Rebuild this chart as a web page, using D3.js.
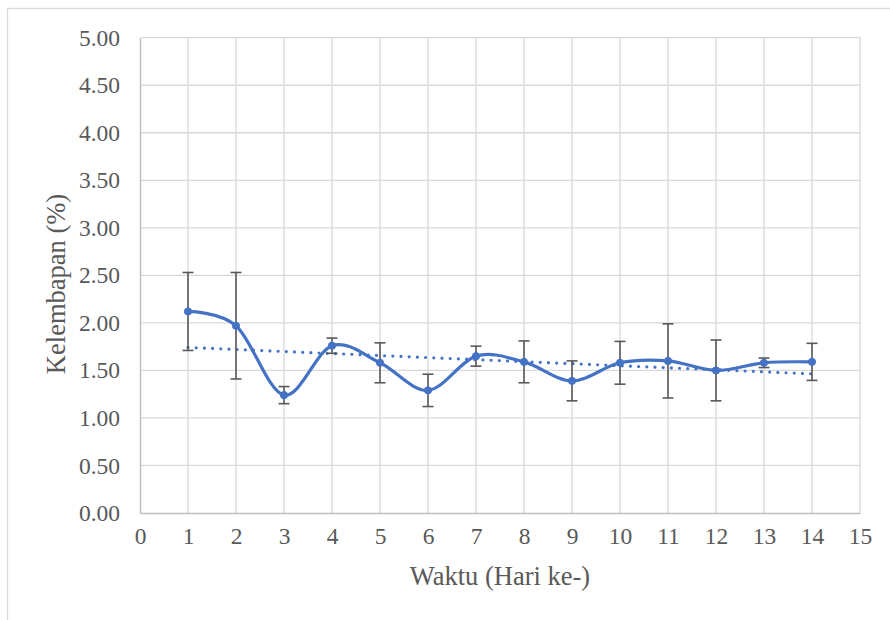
<!DOCTYPE html>
<html>
<head>
<meta charset="utf-8">
<script src="https://cdn.jsdelivr.net/npm/d3@7"></script>
<style>
  html, body { margin: 0; padding: 0; background: #fff; }
  svg { display: block; }
  text { font-family: "Liberation Serif", "Times New Roman", serif; fill: #595959; }
</style>
</head>
<body>
<svg id="chart" width="890" height="620"></svg>
<script>
// ---- data ----
const days = [1, 2, 3, 4, 5, 6, 7, 8, 9, 10, 11, 12, 13, 14];
const moisture = [2.12, 1.97, 1.24, 1.76, 1.58, 1.29, 1.65, 1.59, 1.39, 1.58, 1.60, 1.50, 1.58, 1.59];
const errorHalf = [0.41, 0.56, 0.09, 0.08, 0.21, 0.17, 0.105, 0.22, 0.21, 0.225, 0.39, 0.32, 0.05, 0.195];
const xTicks = [0, 1, 2, 3, 4, 5, 6, 7, 8, 9, 10, 11, 12, 13, 14, 15];
const yTicks = [0, 0.5, 1, 1.5, 2, 2.5, 3, 3.5, 4, 4.5, 5];
const xTitle = "Waktu (Hari ke-)";
const yTitle = "Kelembapan (%)";

(function () {
// ---- layout ----
const svg = d3.select("#chart");
const pLeft = 140, pRight = 860, pTop = 37.7, pBottom = 513;
const x = d3.scaleLinear().domain([0, 15]).range([pLeft, pRight]);
const y = d3.scaleLinear().domain([0, 5]).range([pBottom, pTop]);
const blue = "#4472C4";
const serif = "'Liberation Serif', 'Times New Roman', serif";
const fs = 23.5;
const tfs = 26.5;

// outer chart frame
svg.append("rect").attr("x", 7.5).attr("y", 8.5).attr("width", 900).attr("height", 700)
  .attr("fill", "#fff").attr("stroke", "#D9D9D9").attr("stroke-width", 1.3);

// gridlines
const grid = svg.append("g");
grid.selectAll("line.h").data(yTicks.filter(d => d > 0)).join("line")
  .attr("x1", pLeft).attr("x2", pRight)
  .attr("y1", d => y(d)).attr("y2", d => y(d))
  .attr("stroke", "#D9D9D9").attr("stroke-width", 1.3);
grid.selectAll("line.v").data(xTicks.filter(d => d > 0)).join("line")
  .attr("y1", pTop).attr("y2", pBottom)
  .attr("x1", d => x(d)).attr("x2", d => x(d))
  .attr("stroke", "#D9D9D9").attr("stroke-width", 1.3);

// axes
const xAxis = d3.axisBottom(x).tickValues(xTicks).tickSize(0).tickPadding(14).tickFormat(d3.format("d"));
const yAxis = d3.axisLeft(y).tickValues(yTicks).tickSize(0).tickPadding(20).tickFormat(d3.format(".2f"));
const gx = svg.append("g").attr("transform", `translate(0,${pBottom})`).call(xAxis);
const gy = svg.append("g").attr("transform", `translate(${pLeft},0)`).call(yAxis);
[gx, gy].forEach(g => {
  g.attr("font-family", null).style("font-family", serif);
  g.select(".domain").attr("stroke", "#BFBFBF").attr("stroke-width", 1.5);
  g.selectAll("text").attr("font-size", fs).attr("fill", "#595959")
    .style("font-family", serif);
});
gx.selectAll(".tick text").attr("dy", "0.71em");

// titles
svg.append("text").attr("x", x(7.5)).attr("y", 585).attr("text-anchor", "middle")
  .attr("font-size", tfs).style("font-family", serif).text(xTitle);
svg.append("text").attr("transform", "translate(65,284) rotate(-90)").attr("text-anchor", "middle")
  .attr("font-size", tfs).style("font-family", serif).text(yTitle);

// trendline (linear regression)
const n = days.length;
const mx = d3.mean(days), my = d3.mean(moisture);
const sxy = d3.sum(days, (d, i) => (d - mx) * (moisture[i] - my));
const sxx = d3.sum(days, d => (d - mx) * (d - mx));
const slope = sxy / sxx, intercept = my - slope * mx;
const trendPts = [days[0], days[n - 1]].map(d => [d, intercept + slope * d]);
svg.append("path")
  .attr("d", d3.line().x(d => x(d[0])).y(d => y(d[1]))(trendPts))
  .attr("fill", "none").attr("stroke", blue).attr("stroke-width", 3.2)
  .attr("stroke-linecap", "round").attr("stroke-dasharray", "0 8.2");

// smoothed series line
const pts = days.map((d, i) => [d, moisture[i]]);
svg.append("path")
  .attr("d", d3.line().x(d => x(d[0])).y(d => y(d[1])).curve(d3.curveCatmullRom.alpha(0))(pts))
  .attr("fill", "none").attr("stroke", blue).attr("stroke-width", 3.2)
  .attr("stroke-linejoin", "round").attr("stroke-linecap", "round");

// error bars
const eb = svg.append("g").attr("stroke", "#595959").attr("stroke-width", 1.6);
days.forEach((d, i) => {
  const cx = x(d), yt = y(moisture[i] + errorHalf[i]), yb = y(moisture[i] - errorHalf[i]);
  eb.append("line").attr("x1", cx).attr("x2", cx).attr("y1", yt).attr("y2", yb);
  eb.append("line").attr("x1", cx - 5.5).attr("x2", cx + 5.5).attr("y1", yt).attr("y2", yt);
  eb.append("line").attr("x1", cx - 5.5).attr("x2", cx + 5.5).attr("y1", yb).attr("y2", yb);
});

// markers
svg.selectAll("circle.m").data(pts).join("circle")
  .attr("cx", d => x(d[0])).attr("cy", d => y(d[1])).attr("r", 3.6)
  .attr("fill", blue).attr("stroke", blue).attr("stroke-width", 1);
})();
</script>
</body>
</html>
